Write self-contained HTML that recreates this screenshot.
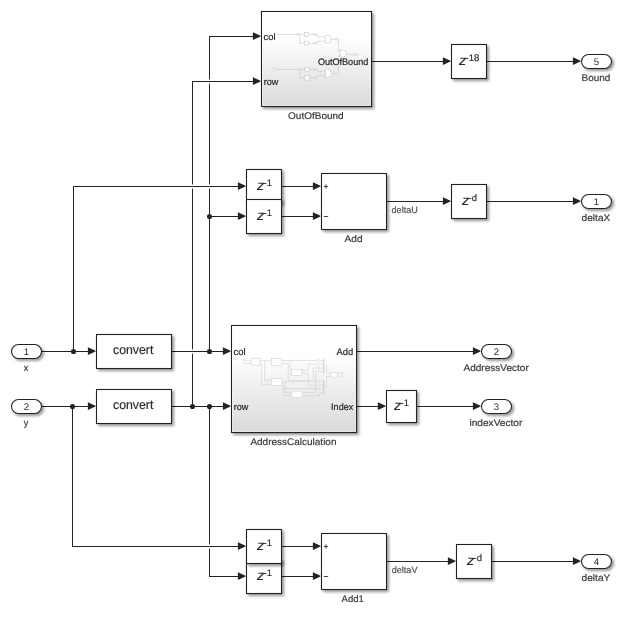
<!DOCTYPE html>
<html><head><meta charset="utf-8"><title>Simulink model</title>
<style>
html,body{margin:0;padding:0;background:#fff;}
svg{display:block;}
svg text{font-family:"Liberation Sans",Arial,Helvetica,sans-serif;text-rendering:geometricPrecision;}
.w{fill:none;stroke:#232323;stroke-width:1.0;}
.ah{fill:#232323;stroke:none;}
.b{stroke:#232323;stroke-width:1.08;}
</style></head>
<body>
<svg width="622" height="617" viewBox="0 0 622 617">
<defs>
<filter id="sh" x="-20%" y="-20%" width="150%" height="150%">
<feGaussianBlur in="SourceAlpha" stdDeviation="1.5"/>
<feOffset dx="1.8" dy="1.8" result="o"/>
<feComponentTransfer><feFuncA type="linear" slope="0.42"/></feComponentTransfer>
<feMerge><feMergeNode/><feMergeNode in="SourceGraphic"/></feMerge>
</filter>
<linearGradient id="g" x1="0" y1="0" x2="0" y2="1">
<stop offset="0" stop-color="#ffffff"/><stop offset="0.28" stop-color="#ffffff"/><stop offset="1" stop-color="#d9d9d9"/>
</linearGradient>
</defs>
<rect width="622" height="617" fill="#fff"/>
<g opacity="0.999">
<path d="M209.5 351.5L209.5 36.5" class="w"/>
<path d="M192.5 406.5L192.5 81.5" class="w"/>
<path d="M209.5 406.5L209.5 576.5" class="w"/>
<path d="M73.5 351.5L73.5 186.5" class="w"/>
<path d="M72.5 406.5L72.5 546.5" class="w"/>
<rect x="191.0" y="185.0" width="3" height="3" fill="#fff"/><rect x="191.0" y="183.8" width="3" height="5.4" fill="#fff" fill-opacity="0.55"/>
<rect x="208.0" y="185.0" width="3" height="3" fill="#fff"/><rect x="208.0" y="183.8" width="3" height="5.4" fill="#fff" fill-opacity="0.55"/>
<rect x="208.0" y="80.0" width="3" height="3" fill="#fff"/><rect x="208.0" y="78.8" width="3" height="5.4" fill="#fff" fill-opacity="0.55"/>
<rect x="191.0" y="350.0" width="3" height="3" fill="#fff"/><rect x="191.0" y="348.8" width="3" height="5.4" fill="#fff" fill-opacity="0.55"/>
<rect x="208.0" y="545.0" width="3" height="3" fill="#fff"/><rect x="208.0" y="543.8" width="3" height="5.4" fill="#fff" fill-opacity="0.55"/>
<path d="M209.0 36.5H254.5" class="w"/>
<path d="M260.5 35.65L252.9 32.2V40.0L260.5 36.55Z" class="ah"/>
<path d="M192.0 81.5H254.5" class="w"/>
<path d="M260.5 80.65L252.9 77.2V85.0L260.5 81.55Z" class="ah"/>
<path d="M73.0 186.5H239.5" class="w"/>
<path d="M245.5 185.65L237.9 182.2V190.0L245.5 186.55Z" class="ah"/>
<path d="M209.5 216.5H239.5" class="w"/>
<path d="M245.5 215.65L237.9 212.2V220.0L245.5 216.55Z" class="ah"/>
<path d="M72.0 546.5H239.5" class="w"/>
<path d="M245.5 545.65L237.9 542.2V550.0L245.5 546.55Z" class="ah"/>
<path d="M209.0 576.5H239.5" class="w"/>
<path d="M245.5 575.65L237.9 572.2V580.0L245.5 576.55Z" class="ah"/>
<path d="M41.5 351.5H89.5" class="w"/>
<path d="M95.5 350.65L87.9 347.2V355.0L95.5 351.55Z" class="ah"/>
<path d="M41.5 406.5H89.5" class="w"/>
<path d="M95.5 405.65L87.9 402.2V410.0L95.5 406.55Z" class="ah"/>
<path d="M171.5 351.5H224.5" class="w"/>
<path d="M230.5 350.65L222.9 347.2V355.0L230.5 351.55Z" class="ah"/>
<path d="M171.5 406.5H224.5" class="w"/>
<path d="M230.5 405.65L222.9 402.2V410.0L230.5 406.55Z" class="ah"/>
<path d="M371.5 61.5H444.5" class="w"/>
<path d="M450.5 60.65L442.9 57.2V65.0L450.5 61.55Z" class="ah"/>
<path d="M486.5 61.5H574.5" class="w"/>
<path d="M580.5 60.65L572.9 57.2V65.0L580.5 61.55Z" class="ah"/>
<path d="M281.5 186.5H314.5" class="w"/>
<path d="M320.5 185.65L312.9 182.2V190.0L320.5 186.55Z" class="ah"/>
<path d="M281.5 216.5H314.5" class="w"/>
<path d="M320.5 215.65L312.9 212.2V220.0L320.5 216.55Z" class="ah"/>
<path d="M386.5 201.5H444.5" class="w"/>
<path d="M450.5 200.65L442.9 197.2V205.0L450.5 201.55Z" class="ah"/>
<path d="M486.5 201.5H574.5" class="w"/>
<path d="M580.5 200.65L572.9 197.2V205.0L580.5 201.55Z" class="ah"/>
<path d="M356.5 351.5H474.5" class="w"/>
<path d="M480.5 350.65L472.9 347.2V355.0L480.5 351.55Z" class="ah"/>
<path d="M356.5 406.5H379.5" class="w"/>
<path d="M385.5 405.65L377.9 402.2V410.0L385.5 406.55Z" class="ah"/>
<path d="M416.5 406.5H474.5" class="w"/>
<path d="M480.5 405.65L472.9 402.2V410.0L480.5 406.55Z" class="ah"/>
<path d="M281.5 546.5H314.5" class="w"/>
<path d="M320.5 545.65L312.9 542.2V550.0L320.5 546.55Z" class="ah"/>
<path d="M281.5 576.5H314.5" class="w"/>
<path d="M320.5 575.65L312.9 572.2V580.0L320.5 576.55Z" class="ah"/>
<path d="M386.5 561.5H449.5" class="w"/>
<path d="M455.5 560.65L447.9 557.2V565.0L455.5 561.55Z" class="ah"/>
<path d="M491.5 561.5H574.5" class="w"/>
<path d="M580.5 560.65L572.9 557.2V565.0L580.5 561.55Z" class="ah"/>
<circle cx="73.5" cy="351.5" r="2.55" fill="#232323"/>
<circle cx="72.5" cy="406.5" r="2.55" fill="#232323"/>
<circle cx="209.5" cy="351.5" r="2.55" fill="#232323"/>
<circle cx="192.5" cy="406.5" r="2.55" fill="#232323"/>
<circle cx="209.5" cy="406.5" r="2.55" fill="#232323"/>
<circle cx="209.5" cy="216.5" r="2.55" fill="#232323"/>
<rect x="261.5" y="11.5" width="110" height="95" fill="url(#g)" class="b" filter="url(#sh)"/>
<rect x="262.6" y="12.6" width="107.8" height="92.8" fill="none" stroke="#fff" stroke-opacity="0.5" stroke-width="1"/>

<g fill="none" stroke="#bcbcbc" stroke-width="0.5">
<path d="M276.8 34.4H295.3M298 34.4H304.6M308.5 34.4H313M314.8 34.4H317V36.9H325.2M299.5 34.4V43.3H304.6M308.5 43.3H313M314.8 43.3H317V41.2H325.2"/>
<path d="M297.8 33.3L295.4 34.4L297.8 35.5ZM315 33.4L313 34.4L315 35.4ZM315 42.3L313 43.3L315 44.3Z" fill="#fff"/>
<rect x="304.6" y="32.4" width="4" height="4" fill="#fff"/><rect x="304.6" y="41.1" width="4" height="4" fill="#fff"/>
<path d="M325.2 35.1H327.6A4 4 0 0 1 327.6 43.1H325.2Z" fill="#fff"/>
<path d="M331.6 39.1H335M337.6 39.1H338.6V51.3H340.2"/>
<path d="M335 39.1L337.4 37.9V40.3Z" fill="#fff"/>
<path d="M340.2 49.9H342.9A3.6 3.6 0 0 1 342.9 57.1H340.2Z" fill="#fff"/>
<path d="M346.5 54.5H353.8"/><ellipse cx="356" cy="54.5" rx="2.1" ry="1" fill="#fff"/>
<ellipse cx="273.9" cy="69.4" rx="2.1" ry="1" fill="#fff"/>
<path d="M276 69.4H296M298.8 69.4H305M309.3 69.4H313M314.8 69.4H317V71.3H325.5M300.2 69.4V77.8H305M309.3 77.8H313M314.8 77.8H317V75.6H325.5"/>
<circle cx="297.4" cy="69.4" r="1.2" fill="#fff"/>
<path d="M315 68.4L313 69.4L315 70.4ZM315 76.8L313 77.8L315 78.8Z" fill="#fff"/>
<rect x="305" y="67.3" width="4.2" height="4.2" fill="#fff"/><rect x="305" y="75.7" width="4.2" height="4.4" fill="#fff"/>
<path d="M325.5 69.4H327.6A4 4 0 0 1 327.6 77.4H325.5Z" fill="#fff"/>
<path d="M331.6 73.5H335M337.5 73.5H338.6V55H340.2"/>
<circle cx="336.2" cy="73.5" r="1.2" fill="#fff"/>
</g>
<text x="263.5" y="39.7" font-size="9.4" fill="#222" textLength="12.1" lengthAdjust="spacingAndGlyphs" stroke="#222" stroke-width="0.18">col</text>
<text x="263.8" y="84.7" font-size="9.4" fill="#222" textLength="14.6" lengthAdjust="spacingAndGlyphs" stroke="#222" stroke-width="0.18">row</text>
<text x="317.9" y="65" font-size="9.4" fill="#222" textLength="50.4" lengthAdjust="spacingAndGlyphs" stroke="#222" stroke-width="0.18">OutOfBound</text>
<text x="288.1" y="118.7" font-size="9.6" fill="#383838" textLength="55.6" lengthAdjust="spacingAndGlyphs" stroke="#383838" stroke-width="0.18">OutOfBound</text>
<rect x="451.5" y="44.5" width="35" height="34" fill="#fff" class="b" filter="url(#sh)"/>
<text x="458.95" y="65.0" font-size="13.5" font-style="italic" fill="#2a2a2a" stroke="#2a2a2a" stroke-width="0.15" textLength="7.3" lengthAdjust="spacingAndGlyphs">z</text>
<text x="465.6" y="60.8" font-size="9.5" fill="#2a2a2a" stroke="#2a2a2a" stroke-width="0.15">-18</text>
<rect x="581.5" y="54.5" width="30" height="14" rx="7" ry="7" fill="#fff" class="b" filter="url(#sh)"/>
<text x="596.5" y="64.8" font-size="9.6" text-anchor="middle" fill="#2a2a2a">5</text>
<text x="581.6" y="80.7" font-size="9.6" fill="#383838" textLength="28.7" lengthAdjust="spacingAndGlyphs" stroke="#383838" stroke-width="0.18">Bound</text>
<rect x="246.5" y="169.5" width="35" height="34" fill="#fff" class="b" filter="url(#sh)"/>
<text x="256.95" y="190.0" font-size="13.5" font-style="italic" fill="#2a2a2a" stroke="#2a2a2a" stroke-width="0.15" textLength="7.3" lengthAdjust="spacingAndGlyphs">z</text>
<text x="263.6" y="185.8" font-size="9.5" fill="#2a2a2a" stroke="#2a2a2a" stroke-width="0.15">-1</text>
<rect x="246.5" y="199.5" width="35" height="34" fill="#fff" class="b" filter="url(#sh)"/>
<text x="256.95" y="220.0" font-size="13.5" font-style="italic" fill="#2a2a2a" stroke="#2a2a2a" stroke-width="0.15" textLength="7.3" lengthAdjust="spacingAndGlyphs">z</text>
<text x="263.6" y="215.8" font-size="9.5" fill="#2a2a2a" stroke="#2a2a2a" stroke-width="0.15">-1</text>
<rect x="321.5" y="173.5" width="65" height="56" fill="#fff" class="b" filter="url(#sh)"/>
<path d="M323.8 186.5H328.2M326 184.3V188.7M323.8 216.5H328.2" stroke="#333" stroke-width="0.9" fill="none"/>
<text x="391.6" y="212.7" font-size="9.2" fill="#505050" textLength="26.1" lengthAdjust="spacingAndGlyphs" stroke="#505050" stroke-width="0.18">deltaU</text>
<text x="344.6" y="241.5" font-size="9.6" fill="#383838" textLength="18.0" lengthAdjust="spacingAndGlyphs" stroke="#383838" stroke-width="0.18">Add</text>
<rect x="451.5" y="184.5" width="35" height="34" fill="#fff" class="b" filter="url(#sh)"/>
<text x="461.95" y="205.0" font-size="13.5" font-style="italic" fill="#2a2a2a" stroke="#2a2a2a" stroke-width="0.15" textLength="7.3" lengthAdjust="spacingAndGlyphs">z</text>
<text x="468.6" y="200.8" font-size="9.5" fill="#2a2a2a" stroke="#2a2a2a" stroke-width="0.15">-d</text>
<rect x="581.5" y="194.5" width="30" height="14" rx="7" ry="7" fill="#fff" class="b" filter="url(#sh)"/>
<text x="596.5" y="204.8" font-size="9.6" text-anchor="middle" fill="#2a2a2a">1</text>
<text x="581.6" y="220.7" font-size="9.6" fill="#383838" textLength="28.7" lengthAdjust="spacingAndGlyphs" stroke="#383838" stroke-width="0.18">deltaX</text>
<rect x="11.5" y="344.5" width="30" height="14" rx="7" ry="7" fill="#fff" class="b" filter="url(#sh)"/>
<text x="26.5" y="354.8" font-size="9.6" text-anchor="middle" fill="#2a2a2a">1</text>
<text x="23.8" y="370.9" font-size="9.6" fill="#3a3a3a" textLength="4.6" lengthAdjust="spacingAndGlyphs" stroke="#3a3a3a" stroke-width="0.18">x</text>
<rect x="11.5" y="399.5" width="30" height="14" rx="7" ry="7" fill="#fff" class="b" filter="url(#sh)"/>
<text x="26.5" y="409.8" font-size="9.6" text-anchor="middle" fill="#2a2a2a">2</text>
<text x="23.8" y="425.9" font-size="9.6" fill="#3a3a3a" textLength="4.6" lengthAdjust="spacingAndGlyphs" stroke="#3a3a3a" stroke-width="0.18">y</text>
<rect x="96.5" y="334.5" width="75" height="34" fill="#fff" class="b" filter="url(#sh)"/>
<text x="113.0" y="354.3" font-size="12.7" fill="#2a2a2a" textLength="40.4" lengthAdjust="spacingAndGlyphs" stroke="#2a2a2a" stroke-width="0.18">convert</text>
<rect x="96.5" y="389.5" width="75" height="34" fill="#fff" class="b" filter="url(#sh)"/>
<text x="113.0" y="409.3" font-size="12.7" fill="#2a2a2a" textLength="40.4" lengthAdjust="spacingAndGlyphs" stroke="#2a2a2a" stroke-width="0.18">convert</text>
<rect x="231.5" y="325.5" width="125" height="107" fill="url(#g)" class="b" filter="url(#sh)"/>
<rect x="232.6" y="326.6" width="122.8" height="104.8" fill="none" stroke="#fff" stroke-opacity="0.5" stroke-width="1"/>

<g fill="none" stroke="#cacaca" stroke-width="0.5">
<path d="M245.8 360.4H251.1M245.8 363.5H251.1M259.8 360.6H271.3M259.8 363.5H261.4V384.4H271.3M264.6 360.6V380.2H266.6M269 380.2H271.3"/>
<path d="M281.9 360.5H316.4M319.4 360.5H323.7M281.9 363.5H288.2V380.5H313.3V368H316.4M319.4 368H323.7M290.1 360.5V370.4H291.5M288.2 373.3H291.5"/>
<path d="M302 370.4H308.3V364.1H323.7M302 373.3H308.3V385.3H323.7M315.5 392.6V371.6H323.7M302 392.6H315.5M302 395.7H319.8V392.6H323.7"/>
<path d="M281.9 381.3H316.6M319.6 381.3H323.7M283.4 383.4V395.5H291.5M281.9 383.4H283.4M285.3 381.3V392.4H291.5M283.4 388.5H316.6M319.6 388.5H323.7"/>
<path d="M323.7 358.3V373.8M323.7 379.6V394.5" stroke="#b8b8b8" stroke-width="0.7"/>
<path d="M323.7 365.6H325.6Q326.6 365.6 326.6 366.6V373.3H330.4M323.7 387.3H325.6Q326.6 387.3 326.6 386.3V376.4H330.4M337.7 373.3H340.6M337.7 376.4H340.6"/>
<g fill="#fff">
<rect x="251.1" y="358.3" width="8.7" height="7.3"/><rect x="271.3" y="358.3" width="10.6" height="7.3"/>
<rect x="291.5" y="369.4" width="10.5" height="6"/><rect x="271.3" y="378.6" width="10.6" height="7"/>
<rect x="291.5" y="391.1" width="10.5" height="6.3"/><rect x="330.4" y="372.3" width="7.3" height="4.8"/>
<circle cx="317.9" cy="360.4" r="1.4"/><circle cx="317.9" cy="368" r="1.3"/>
<rect x="316.7" y="380.2" width="2.6" height="2.2"/><rect x="316.7" y="387.4" width="2.6" height="2.4"/>
<ellipse cx="267.8" cy="380.2" rx="1.2" ry="0.9"/>
<ellipse cx="244.6" cy="360.4" rx="1.2" ry="0.7"/><ellipse cx="244.6" cy="363.5" rx="1.2" ry="0.7"/>
<ellipse cx="342" cy="373.3" rx="1.3" ry="0.7"/><ellipse cx="342" cy="376.4" rx="1.3" ry="0.7"/>
</g></g>
<text x="233.5" y="354.7" font-size="9.4" fill="#222" textLength="12.1" lengthAdjust="spacingAndGlyphs" stroke="#222" stroke-width="0.18">col</text>
<text x="233.8" y="409.7" font-size="9.4" fill="#222" textLength="14.6" lengthAdjust="spacingAndGlyphs" stroke="#222" stroke-width="0.18">row</text>
<text x="336.5" y="354.6" font-size="9.4" fill="#222" textLength="16.7" lengthAdjust="spacingAndGlyphs" stroke="#222" stroke-width="0.18">Add</text>
<text x="331.1" y="409.6" font-size="9.4" fill="#222" textLength="22.1" lengthAdjust="spacingAndGlyphs" stroke="#222" stroke-width="0.18">Index</text>
<text x="250.4" y="444.8" font-size="9.6" fill="#383838" textLength="86.1" lengthAdjust="spacingAndGlyphs" stroke="#383838" stroke-width="0.18">AddressCalculation</text>
<rect x="481.5" y="344.5" width="30" height="14" rx="7" ry="7" fill="#fff" class="b" filter="url(#sh)"/>
<text x="496.5" y="354.8" font-size="9.6" text-anchor="middle" fill="#2a2a2a">2</text>
<text x="463.5" y="370.6" font-size="9.6" fill="#383838" textLength="65.3" lengthAdjust="spacingAndGlyphs" stroke="#383838" stroke-width="0.18">AddressVector</text>
<rect x="386.5" y="390.5" width="30" height="32" fill="#fff" class="b" filter="url(#sh)"/>
<text x="393.95" y="410.0" font-size="13.5" font-style="italic" fill="#2a2a2a" stroke="#2a2a2a" stroke-width="0.15" textLength="7.3" lengthAdjust="spacingAndGlyphs">z</text>
<text x="400.6" y="405.8" font-size="9.5" fill="#2a2a2a" stroke="#2a2a2a" stroke-width="0.15">-1</text>
<rect x="481.5" y="399.5" width="30" height="14" rx="7" ry="7" fill="#fff" class="b" filter="url(#sh)"/>
<text x="496.5" y="409.8" font-size="9.6" text-anchor="middle" fill="#2a2a2a">3</text>
<text x="469.5" y="425.6" font-size="9.6" fill="#383838" textLength="52.8" lengthAdjust="spacingAndGlyphs" stroke="#383838" stroke-width="0.18">indexVector</text>
<rect x="246.5" y="559.5" width="35" height="34" fill="#fff" class="b" filter="url(#sh)"/>
<text x="256.95" y="580.0" font-size="13.5" font-style="italic" fill="#2a2a2a" stroke="#2a2a2a" stroke-width="0.15" textLength="7.3" lengthAdjust="spacingAndGlyphs">z</text>
<text x="263.6" y="575.8" font-size="9.5" fill="#2a2a2a" stroke="#2a2a2a" stroke-width="0.15">-1</text>
<rect x="246.5" y="529.5" width="35" height="34" fill="#fff" class="b" filter="url(#sh)"/>
<text x="256.95" y="550.0" font-size="13.5" font-style="italic" fill="#2a2a2a" stroke="#2a2a2a" stroke-width="0.15" textLength="7.3" lengthAdjust="spacingAndGlyphs">z</text>
<text x="263.6" y="545.8" font-size="9.5" fill="#2a2a2a" stroke="#2a2a2a" stroke-width="0.15">-1</text>
<rect x="321.5" y="533.5" width="65" height="56" fill="#fff" class="b" filter="url(#sh)"/>
<path d="M323.8 546.5H328.2M326 544.3V548.7M323.8 576.5H328.2" stroke="#333" stroke-width="0.9" fill="none"/>
<text x="391.7" y="572.7" font-size="9.2" fill="#505050" textLength="25.8" lengthAdjust="spacingAndGlyphs" stroke="#505050" stroke-width="0.18">deltaV</text>
<text x="341.6" y="601.6" font-size="9.6" fill="#383838" textLength="22.3" lengthAdjust="spacingAndGlyphs" stroke="#383838" stroke-width="0.18">Add1</text>
<rect x="456.5" y="544.5" width="35" height="34" fill="#fff" class="b" filter="url(#sh)"/>
<text x="466.95" y="565.0" font-size="13.5" font-style="italic" fill="#2a2a2a" stroke="#2a2a2a" stroke-width="0.15" textLength="7.3" lengthAdjust="spacingAndGlyphs">z</text>
<text x="473.6" y="560.8" font-size="9.5" fill="#2a2a2a" stroke="#2a2a2a" stroke-width="0.15">-d</text>
<rect x="581.5" y="554.5" width="30" height="14" rx="7" ry="7" fill="#fff" class="b" filter="url(#sh)"/>
<text x="596.5" y="564.8" font-size="9.6" text-anchor="middle" fill="#2a2a2a">4</text>
<text x="581.6" y="580.7" font-size="9.6" fill="#383838" textLength="28.7" lengthAdjust="spacingAndGlyphs" stroke="#383838" stroke-width="0.18">deltaY</text>
</g>
</svg>
</body></html>
